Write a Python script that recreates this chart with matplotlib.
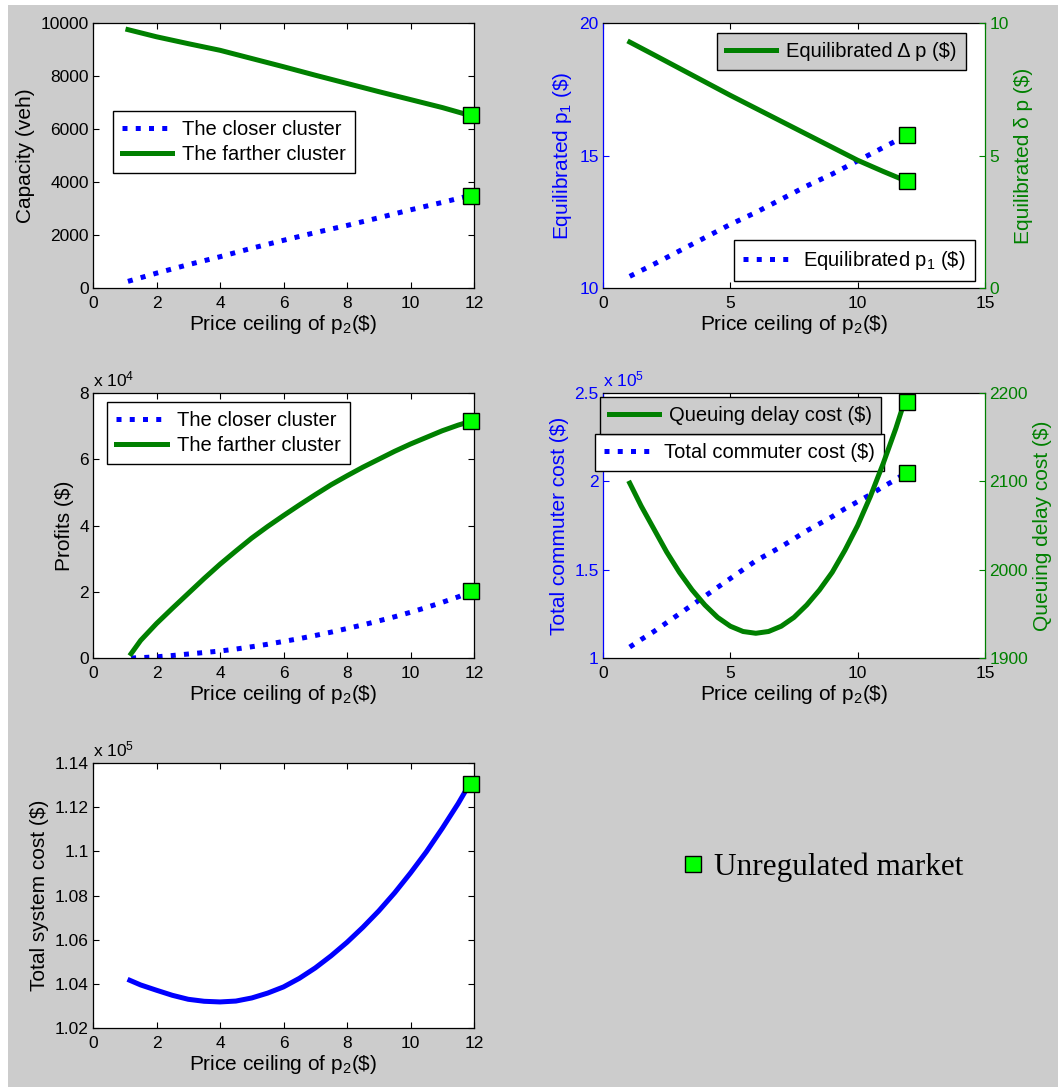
import matplotlib
matplotlib.use("Agg")
import matplotlib.pyplot as plt
from matplotlib.lines import Line2D
from matplotlib.patches import Rectangle
from matplotlib.ticker import FuncFormatter

plt.rcParams["font.family"] = ["Liberation Sans", "DejaVu Sans"]
plt.rcParams["mathtext.default"] = "regular"
plt.rcParams["font.size"] = 12.5

GREEN = "#008000"
BLUE = "#0000ff"
MARK = "#00ff00"
BG = "#cccccc"

# capacity of the two clusters (veh)
cap_x = [1.1, 2, 3, 4, 5, 6, 7, 8, 9, 10, 11, 11.85]
cap_closer = [250, 560, 880, 1180, 1500, 1800, 2090, 2360, 2650, 2950, 3230, 3480]
cap_farther = [9750, 9480, 9220, 8970, 8660, 8350, 8030, 7720, 7410, 7110, 6810, 6520]

# equilibrated prices ($)
eq_x = [1.05, 2, 3, 4, 5, 6, 7, 8, 9, 10, 11, 11.7]
eq_p1 = [10.44, 10.9, 11.4, 11.9, 12.4, 12.85, 13.35, 13.85, 14.3, 14.8, 15.3, 15.65]
eq_dp = [9.28, 8.80, 8.29, 7.78, 7.27, 6.78, 6.29, 5.80, 5.31, 4.82, 4.40, 4.12]

# profits ($)
prof_x = [1.2, 1.5, 2, 2.5, 3, 3.5, 4, 4.5, 5, 5.5, 6, 6.5, 7, 7.5, 8, 8.5,
          9, 9.5, 10, 10.5, 11, 11.5, 11.85]
prof_closer = [0, 100, 350, 750, 1200, 1650, 2100, 2700, 3400, 4150, 5000,
               5850, 6800, 7800, 8900, 10000, 11200, 12450, 13800, 15250,
               16800, 18450, 19800]
prof_farther = [1300, 5300, 10400, 15000, 19500, 24000, 28300, 32300, 36200,
                39700, 43000, 46200, 49300, 52300, 55000, 57600, 60000, 62400,
                64600, 66600, 68600, 70300, 71300]

# commuter and queuing costs ($)
cost_x = [1.05, 1.5, 2, 2.5, 3, 3.5, 4, 4.5, 5, 5.5, 6, 6.5, 7, 7.5, 8, 8.5,
          9, 9.5, 10, 10.5, 11, 11.5, 11.7]
commuter = [106200, 110500, 115000, 120000, 125000, 130000, 135000, 140000,
            145000, 150000, 155000, 159000, 163000, 167500, 172000, 176000,
            180000, 184500, 188500, 192500, 197000, 201000, 203000]
queuing = [2098, 2072, 2046, 2020, 1997, 1977, 1960, 1946, 1936, 1930, 1928,
           1930, 1936, 1946, 1960, 1977, 1997, 2022, 2050, 2083, 2120, 2160,
           2178]

# total system cost ($)
sys_x = [1.16, 1.5, 2, 2.5, 3, 3.5, 4, 4.5, 5, 5.5, 6, 6.5, 7, 7.5, 8, 8.5,
         9, 9.5, 10, 10.5, 11, 11.5, 11.8]
sys_cost = [104160, 103950, 103710, 103480, 103300, 103210, 103180, 103220,
            103360, 103580, 103860, 104250, 104720, 105270, 105880, 106560,
            107300, 108120, 109020, 109980, 111040, 112160, 112900]

# unregulated market points
unreg_x1 = 11.9
unreg_cap = [3480, 6520]
unreg_x2 = 11.95
unreg_p1 = 15.76
unreg_dp = 4.03
unreg_prof = [20300, 71600]
unreg_commuter = 204600
unreg_queuing = 2190
unreg_sys = 113060

W, H = 1058, 1087
LABEL_FS = 15
TICK_FS = 12.5


def axes_at(left, top, right, bottom):
    return fig.add_axes([left / W, 1 - bottom / H, (right - left) / W, (bottom - top) / H])


def style(ax):
    ax.tick_params(direction="in", length=4, width=0.8, top=True, right=True,
                   labelsize=TICK_FS, pad=3)
    ax.tick_params(axis="x", pad=6)
    for s in ax.spines.values():
        s.set_linewidth(0.9)


def yy_style(ax, tw):
    ax.tick_params(direction="in", length=4, width=0.8, top=True, right=False,
                   labelsize=TICK_FS, pad=3)
    ax.tick_params(axis="x", pad=6)
    ax.tick_params(axis="y", colors=BLUE)
    ax.spines["left"].set_color(BLUE)
    ax.spines["right"].set_visible(False)
    tw.tick_params(direction="in", length=4, width=0.8, labelsize=TICK_FS, pad=3,
                   colors=GREEN)
    tw.spines["right"].set_color(GREEN)
    for s in ("left", "top", "bottom"):
        tw.spines[s].set_visible(False)
    for s in ax.spines.values():
        s.set_linewidth(0.9)
    tw.spines["right"].set_linewidth(0.9)


def unreg(ax, x, y):
    ax.plot(x, y, ls="none", marker="s", ms=11, mfc=MARK, mec="k", mew=1,
            clip_on=False, zorder=5)


xlab = r"Price ceiling of p$_2$(\$)"
leg_kw = dict(fancybox=False, edgecolor="k", framealpha=1, fontsize=14.5,
              handlelength=2.5, borderaxespad=0, borderpad=0.45,
              labelspacing=0.3, handletextpad=0.5)

fig = plt.figure(figsize=(W / 100, H / 100), dpi=100, facecolor="white")
fig.add_artist(Rectangle((8 / W, 0), 1, 1 - 5 / H, transform=fig.transFigure,
                         facecolor=BG, edgecolor="none", zorder=-10))

# capacity
ax1 = axes_at(93, 23, 474, 288)
ax1.plot(cap_x, cap_closer, ls=":", color=BLUE, lw=3.6, label="The closer cluster")
ax1.plot(cap_x, cap_farther, ls="-", color=GREEN, lw=3.6, label="The farther cluster")
unreg(ax1, [unreg_x1] * 2, unreg_cap)
ax1.set_xlim(0, 12)
ax1.set_ylim(0, 10000)
ax1.set_xticks(range(0, 13, 2))
ax1.set_yticks(range(0, 10001, 2000))
ax1.set_xlabel(xlab, fontsize=LABEL_FS, labelpad=1)
ax1.set_ylabel("Capacity (veh)", fontsize=LABEL_FS)
ax1.legend(loc="upper left", bbox_to_anchor=(0.052, 0.668), **leg_kw)
style(ax1)

# equilibrated prices
ax2 = axes_at(603, 23, 985, 288)
tw2 = ax2.twinx()
l_p1, = ax2.plot(eq_x, eq_p1, ls=":", color=BLUE, lw=3.6)
l_dp, = tw2.plot(eq_x, eq_dp, ls="-", color=GREEN, lw=3.6)
unreg(ax2, [unreg_x2], [unreg_p1])
unreg(tw2, [unreg_x2], [unreg_dp])
ax2.set_xlim(0, 15)
ax2.set_ylim(10, 20)
tw2.set_ylim(0, 10)
ax2.set_xticks([0, 5, 10, 15])
ax2.set_yticks([10, 15, 20])
tw2.set_yticks([0, 5, 10])
ax2.set_xlabel(xlab, fontsize=LABEL_FS, labelpad=1)
ax2.set_ylabel(r"Equilibrated p$_1$ (\$)", fontsize=LABEL_FS, color=BLUE)
tw2.set_ylabel(r"Equilibrated δ p (\$)", fontsize=LABEL_FS, color=GREEN)
yy_style(ax2, tw2)
ax2.legend([l_p1], [r"Equilibrated p$_1$ (\$)"], loc="lower right",
           bbox_to_anchor=(0.974, 0.026), **leg_kw)
tw2.legend([l_dp], [r"Equilibrated Δ p (\$)"], loc="upper right",
           bbox_to_anchor=(0.950, 0.962), facecolor=BG, **leg_kw)

# profits
ax3 = axes_at(93, 393, 474, 658)
ax3.plot(prof_x, prof_closer, ls=":", color=BLUE, lw=3.6, label="The closer cluster")
ax3.plot(prof_x, prof_farther, ls="-", color=GREEN, lw=3.6, label="The farther cluster")
unreg(ax3, [unreg_x1] * 2, unreg_prof)
ax3.set_xlim(0, 12)
ax3.set_ylim(0, 80000)
ax3.set_xticks(range(0, 13, 2))
ax3.set_yticks(range(0, 80001, 20000))
ax3.yaxis.set_major_formatter(FuncFormatter(lambda v, p: f"{v / 1e4:g}"))
ax3.text(0, 1.015, r"x 10$^4$", transform=ax3.transAxes, ha="left", va="bottom",
         fontsize=TICK_FS)
ax3.set_xlabel(xlab, fontsize=LABEL_FS, labelpad=1)
ax3.set_ylabel(r"Profits (\$)", fontsize=LABEL_FS)
ax3.legend(loc="upper left", bbox_to_anchor=(0.037, 0.966), **leg_kw)
style(ax3)

# commuter / queuing cost
ax4 = axes_at(603, 393, 985, 658)
tw4 = ax4.twinx()
l_tc, = ax4.plot(cost_x, commuter, ls=":", color=BLUE, lw=3.6)
l_q, = tw4.plot(cost_x, queuing, ls="-", color=GREEN, lw=3.6)
unreg(ax4, [unreg_x2], [unreg_commuter])
unreg(tw4, [unreg_x2], [unreg_queuing])
ax4.set_xlim(0, 15)
ax4.set_ylim(100000, 250000)
tw4.set_ylim(1900, 2200)
ax4.set_xticks([0, 5, 10, 15])
ax4.set_yticks([100000, 150000, 200000, 250000])
tw4.set_yticks([1900, 2000, 2100, 2200])
ax4.yaxis.set_major_formatter(FuncFormatter(lambda v, p: f"{v / 1e5:g}"))
ax4.text(0, 1.015, r"x 10$^5$", transform=ax4.transAxes, ha="left", va="bottom",
         fontsize=TICK_FS, color=BLUE)
ax4.set_xlabel(xlab, fontsize=LABEL_FS, labelpad=1)
ax4.set_ylabel(r"Total commuter cost (\$)", fontsize=LABEL_FS, color=BLUE)
tw4.set_ylabel(r"Queuing delay cost (\$)", fontsize=LABEL_FS, color=GREEN)
yy_style(ax4, tw4)
ax4.legend([l_tc], [r"Total commuter cost (\$)"], loc="upper left",
           bbox_to_anchor=(-0.021, 0.845), **leg_kw)
tw4.legend([l_q], [r"Queuing delay cost (\$)"], loc="upper left",
           bbox_to_anchor=(-0.008, 0.985), facecolor=BG, **leg_kw)

# total system cost
ax5 = axes_at(93, 763, 474, 1028)
ax5.plot(sys_x, sys_cost, ls="-", color=BLUE, lw=3.6)
unreg(ax5, [unreg_x1], [unreg_sys])
ax5.set_xlim(0, 12)
ax5.set_ylim(102000, 114000)
ax5.set_xticks(range(0, 13, 2))
ax5.set_yticks(range(102000, 114001, 2000))
ax5.yaxis.set_major_formatter(FuncFormatter(lambda v, p: f"{v / 1e5:g}"))
ax5.text(0, 1.015, r"x 10$^5$", transform=ax5.transAxes, ha="left", va="bottom",
         fontsize=TICK_FS)
ax5.set_xlabel(xlab, fontsize=LABEL_FS, labelpad=1)
ax5.set_ylabel(r"Total system cost (\$)", fontsize=LABEL_FS)
style(ax5)

# shared marker key
key = Line2D([], [], ls="none", marker="s", ms=11, mfc=MARK, mec="k", mew=1)
fig.legend([key], ["Unregulated market"], loc="center left",
           bbox_to_anchor=(680 / W, 1 - 867 / H), frameon=False,
           prop={"family": "Liberation Serif", "size": 22.5},
           handlelength=0.8, handletextpad=0.3, borderpad=0, borderaxespad=0)

fig.savefig("out.png", dpi=100, facecolor=fig.get_facecolor())
